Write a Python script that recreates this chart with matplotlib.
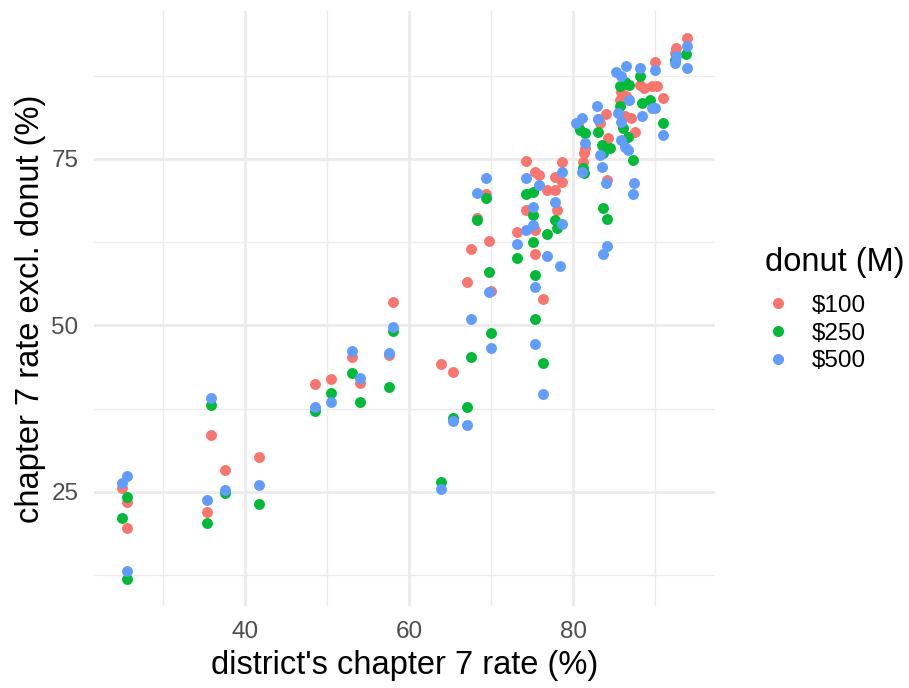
import matplotlib
matplotlib.use("Agg")
import matplotlib.pyplot as plt
from matplotlib.lines import Line2D

plt.rcParams["font.family"] = ["Liberation Sans", "DejaVu Sans"]

# district chapter 7 rate (%) vs chapter 7 rate excluding donut (%), by donut size
red_x = [25.0, 25.6, 25.6, 35.8, 37.6, 35.4, 41.7, 48.5, 50.5, 53.0, 54.0, 57.6, 58.0,
         63.9, 65.4, 67.1, 67.5, 70.0, 69.8, 68.3, 69.4, 73.2, 74.3, 74.3, 75.4, 75.4,
         76.3, 75.4, 75.8, 76.8, 77.8, 78.7, 78.7, 77.8, 78.0, 81.2, 81.5, 81.3, 80.6,
         83.0, 83.3, 84.0, 84.3, 84.1, 85.9, 86.5, 85.7, 86.8, 86.3, 87.1, 87.5, 88.2,
         88.6, 89.6, 90.2, 90.0, 91.0, 92.4, 92.6, 93.9]
red_y = [25.6, 23.5, 19.6, 33.5, 28.3, 22.0, 30.3, 41.2, 41.9, 45.2, 41.3, 45.5, 53.6,
         44.2, 43.0, 56.6, 61.5, 55.2, 62.7, 66.1, 69.7, 64.1, 74.7, 67.3, 64.3, 60.8,
         54.0, 73.1, 72.6, 70.3, 72.3, 74.6, 71.6, 70.3, 67.3, 74.6, 76.6, 75.9, 80.1,
         81.0, 80.4, 81.8, 78.1, 71.8, 85.1, 84.4, 83.9, 83.9, 81.4, 81.1, 79.1, 86.1,
         85.6, 85.9, 85.9, 89.6, 84.1, 90.9, 91.6, 93.1]

green_x = [25.0, 25.6, 25.6, 35.8, 37.6, 35.4, 41.7, 48.5, 50.5, 53.0, 54.0, 57.6, 58.0,
           63.9, 65.4, 67.1, 67.5, 70.0, 69.8, 68.3, 69.4, 73.2, 74.3, 75.1, 75.1, 75.4,
           75.4, 76.3, 76.8, 77.8, 78.0, 75.1, 81.2, 80.9, 81.3, 81.5, 83.1, 83.5, 84.5,
           83.7, 83.6, 84.1, 86.3, 85.7, 86.8, 88.2, 89.4, 91.0, 88.4, 85.7, 86.1, 86.7,
           87.3, 92.4, 93.8]
green_y = [21.1, 24.3, 12.0, 38.0, 24.8, 20.3, 23.2, 37.1, 39.9, 42.8, 38.5, 40.8, 49.1,
           26.5, 36.1, 37.7, 45.2, 48.9, 58.1, 65.8, 69.2, 60.2, 69.8, 66.6, 62.6, 57.6,
           51.0, 44.4, 63.7, 65.8, 64.6, 70.1, 73.6, 79.4, 72.9, 78.9, 79.1, 77.1, 76.6,
           75.9, 67.6, 66.0, 86.6, 85.9, 86.1, 87.5, 83.9, 80.4, 83.4, 82.9, 79.6, 78.3,
           74.8, 89.9, 90.7]

blue_x = [25.0, 25.6, 25.6, 35.8, 37.6, 35.4, 41.7, 48.5, 50.5, 53.0, 54.0, 57.6, 58.0,
          63.9, 65.4, 67.1, 67.5, 70.0, 69.8, 68.3, 69.4, 73.2, 74.3, 74.3, 75.1, 75.1,
          75.4, 75.4, 76.3, 75.8, 76.8, 78.4, 77.8, 78.7, 78.7, 81.1, 81.5, 81.1, 80.4,
          82.9, 83.0, 83.3, 83.5, 84.0, 84.1, 83.6, 85.3, 86.5, 85.9, 86.8, 88.2, 90.0,
          90.0, 89.6, 91.0, 88.4, 85.5, 85.9, 85.9, 86.3, 86.7, 87.4, 87.3, 92.6, 92.4,
          93.9, 93.9]
blue_y = [26.4, 27.4, 13.1, 39.1, 25.3, 23.8, 26.1, 37.7, 38.5, 46.1, 42.1, 45.9, 49.7,
          25.5, 35.7, 35.0, 50.9, 46.6, 55.1, 69.9, 72.1, 62.3, 72.2, 64.4, 67.8, 65.1,
          55.8, 47.2, 39.7, 71.1, 60.5, 59.0, 68.6, 65.2, 73.1, 73.1, 77.4, 81.1, 80.4,
          83.0, 81.0, 75.6, 73.8, 71.4, 62.0, 60.8, 88.0, 89.0, 87.4, 83.9, 88.6, 88.4,
          82.6, 82.6, 78.6, 81.4, 81.9, 80.6, 77.9, 76.8, 76.4, 71.4, 69.8, 90.5, 89.4,
          91.9, 88.7]

series = [("$100", red_x, red_y, "#F8766D"),
          ("$250", green_x, green_y, "#00BA38"),
          ("$500", blue_x, blue_y, "#619CFF")]

x_major = [40, 60, 80]
x_minor = [30, 50, 70, 90]
y_major = [25, 50, 75]
y_minor = [12.5, 37.5, 62.5, 87.5]

fig = plt.figure(figsize=(9.09, 6.88), dpi=100)
ax = fig.add_axes([0.1031, 0.1198, 0.6838, 0.8636])

for label, xs, ys, col in series:
    ax.scatter(xs, ys, s=62, color=col, linewidths=0, zorder=3)

ax.set_xlim(21.55, 97.35)
ax.set_ylim(7.94, 97.16)
ax.set_xticks(x_major)
ax.set_xticks(x_minor, minor=True)
ax.set_yticks(y_major)
ax.set_yticks(y_minor, minor=True)
ax.grid(which="major", color="#EBEBEB", linewidth=2.0, zorder=0)
ax.grid(which="minor", color="#EBEBEB", linewidth=1.0, zorder=0)
ax.set_axisbelow(True)
for sp in ax.spines.values():
    sp.set_visible(False)
ax.tick_params(which="both", length=0)
ax.tick_params(axis="x", labelsize=17.5, colors="#4D4D4D", pad=11)
ax.tick_params(axis="y", labelsize=17.5, colors="#4D4D4D", pad=11)

ax.set_xlabel("district's chapter 7 rate (%)", fontsize=23.5, labelpad=5.5)
ax.set_ylabel("chapter 7 rate excl. donut (%)", fontsize=23.5, labelpad=4)

# legend: title placed separately to match ggplot's spacing
fig.text(0.8416, 1 - 263 / 688, "donut (M)", fontsize=23.5, ha="left", va="center")
handles = [Line2D([], [], marker="o", linestyle="", markersize=8,
                  markerfacecolor=c, markeredgewidth=0) for _, _, _, c in series]
fig.legend(handles, [s[0] for s in series],
           loc="center left", bbox_to_anchor=(0.8427, 1 - 333.5 / 688),
           frameon=False, fontsize=17.5,
           handletextpad=0.9, labelspacing=0.23, handlelength=1.0,
           borderaxespad=0, borderpad=0)

fig.savefig("out.png", dpi=100)
